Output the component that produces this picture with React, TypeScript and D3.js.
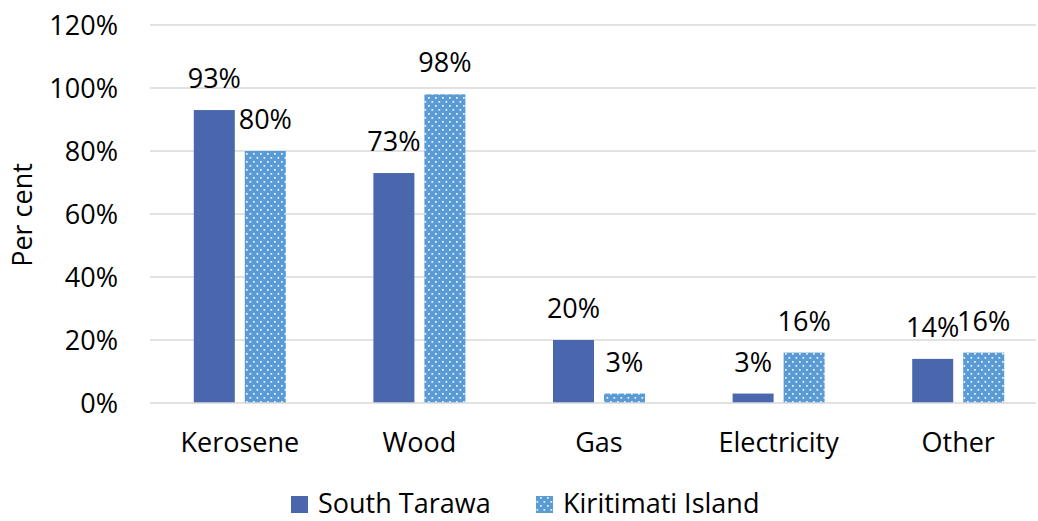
import React from "react";
import * as d3 from "d3";

const categories = ["Kerosene", "Wood", "Gas", "Electricity", "Other"];
const seriesNames = ["South Tarawa", "Kiritimati Island"];
const southTarawa = [93, 73, 20, 3, 14];
const kiritimati = [80, 98, 3, 16, 16];
const yTicks = [0, 20, 40, 60, 80, 100, 120];

const W = 1038;
const H = 521;
const FONT = "'Open Sans', sans-serif";
const FS = 27;
const DARK = "#4A66AC";
const LIGHT = "#5B9BD5";

export default function App() {
  const x = d3.scaleBand<string>().domain(categories).range([150, 1048]).paddingInner(0).paddingOuter(0);
  const y = d3.scaleLinear().domain([0, 120]).range([403, 25]);
  const barW = 41;
  const gap = 10;
  const series = [southTarawa, kiritimati];

  return (
    <svg width={W} height={H} style={{ position: "absolute", left: 0, top: 0 }} fontFamily={FONT}>
      <defs>
        <pattern id="dots" width="7" height="8" patternUnits="userSpaceOnUse">
          <rect width="7" height="8" fill={LIGHT} />
          <rect x="1" y="1" width="1.7" height="1.7" fill="#ffffff" opacity="0.9" />
          <rect x="4.5" y="5" width="1.7" height="1.7" fill="#ffffff" opacity="0.9" />
        </pattern>
      </defs>
      <rect width={W} height={H} fill="#fff" />
      {yTicks.map((t) => (
        <g key={t}>
          {t > 0 && <line x1={150} x2={1036} y1={y(t)} y2={y(t)} stroke="#D9D9D9" strokeWidth={1.5} />}
          <text x={118} y={y(t) + 10} textAnchor="end" fontSize={FS} fill="#000">
            {t}%
          </text>
        </g>
      ))}
      {categories.map((c, i) => {
        const cx = (x(c) as number) + x.bandwidth() / 2;
        return (
          <g key={c}>
            {series.map((s, si) => {
              const bx = si === 0 ? cx - gap / 2 - barW : cx + gap / 2;
              const v = s[i];
              return (
                <g key={si}>
                  <rect
                    x={bx}
                    y={y(v)}
                    width={barW}
                    height={y(0) - y(v)}
                    fill={si === 0 ? DARK : "url(#dots)"}
                  />
                  <text x={bx + barW / 2} y={y(v) - 22} textAnchor="middle" fontSize={FS} fill="#000">
                    {v}%
                  </text>
                </g>
              );
            })}
            <text x={cx} y={452} textAnchor="middle" fontSize={FS} fill="#000">
              {c}
            </text>
          </g>
        );
      })}
      <line x1={150} x2={1036} y1={y(0)} y2={y(0)} stroke="#D9D9D9" strokeWidth={1.5} />
      <text transform={`translate(32,215) rotate(-90)`} textAnchor="middle" fontSize={FS} fill="#000">
        Per cent
      </text>
      <g>
        <rect x={291} y={496} width={17} height={17} fill={DARK} />
        <text x={318} y={513} fontSize={FS} fill="#000">{seriesNames[0]}</text>
        <rect x={536} y={496} width={17} height={17} fill="url(#dots)" />
        <text x={563} y={513} fontSize={FS} fill="#000">{seriesNames[1]}</text>
      </g>
    </svg>
  );
}
